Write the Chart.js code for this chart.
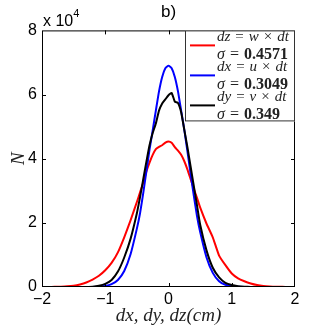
<!DOCTYPE html>
<html>
<head>
<meta charset="utf-8">
<script src="https://cdn.jsdelivr.net/npm/chart.js@4.4.0/dist/chart.umd.min.js"></script>
<style>
  body { margin: 0; background: #fff; }
  canvas { display: block; }
</style>
</head>
<body>
<canvas id="dist-chart" width="326" height="327"></canvas>
<script>
// displacement grid (cm), shared by the three curves
const dxGrid = [-2, -1.9, -1.8, -1.7, -1.6, -1.5, -1.4, -1.3, -1.2, -1.1, -1, -0.9, -0.8, -0.7, -0.6, -0.5,
    -0.45, -0.4, -0.35, -0.3, -0.25, -0.2, -0.15, -0.1, -0.05, 0, 0.05, 0.1, 0.15, 0.2, 0.25, 0.3, 0.35, 0.4, 0.45,
    0.5, 0.6, 0.7, 0.8, 0.9, 1, 1.1, 1.2, 1.3, 1.4, 1.5, 1.6, 1.7, 1.8, 1.9, 2];

// counts N, in units of 10^4
const countsDz = [0, 0, 0.005, 0.01, 0.02, 0.04, 0.08, 0.14, 0.23, 0.35, 0.52, 0.75, 1.08, 1.55, 2.08, 2.65,
    2.95, 3.25, 3.6, 3.88, 4.12, 4.3, 4.37, 4.42, 4.5, 4.54, 4.5, 4.36, 4.25, 4.12, 3.92, 3.66, 3.36, 3.06, 2.78,
    2.48, 1.98, 1.55, 0.98, 0.68, 0.42, 0.27, 0.18, 0.11, 0.06, 0.03, 0.015, 0.008, 0.004, 0, 0];
const countsDx = [0, 0, 0, 0, 0, 0, 0, 0, 0.003, 0.01, 0.03, 0.09, 0.22, 0.5, 1.02, 1.82,
    2.3, 2.92, 3.6, 4.28, 4.88, 5.5, 6.1, 6.55, 6.82, 6.9, 6.82, 6.55, 6.1, 5.5, 4.9, 4.22, 3.52, 2.85, 2.22,
    1.72, 0.93, 0.44, 0.18, 0.07, 0.025, 0.008, 0.002, 0, 0, 0, 0, 0, 0, 0, 0];
const countsDy = [0, 0, 0, 0, 0, 0, 0, 0.003, 0.01, 0.04, 0.1, 0.22, 0.48, 0.92, 1.5, 2.3,
    2.8, 3.35, 3.9, 4.42, 4.8, 5.1, 5.5, 5.72, 5.85, 5.98, 6.05, 5.78, 5.74, 5.45, 4.9, 4.35, 3.75, 3.15, 2.55,
    1.95, 1.15, 0.6, 0.3, 0.13, 0.06, 0.025, 0.01, 0.003, 0, 0, 0, 0, 0, 0, 0];

const seriesLabels = ['dz = w × dt', 'dx = u × dt', 'dy = v × dt'];
const seriesSigmas = ['0.4571', '0.3049', '0.349'];
const seriesColors = ['#ff0000', '#0000ff', '#000000'];

const xMin = -2, xMax = 2, xStep = 1;
const yMin = 0, yMax = 8, yStep = 2;

function toPoints(values) {
    return values.map(function (v, i) { return { x: dxGrid[i], y: v }; });
}

// draw a line of mixed italic / upright / bold runs
function drawRuns(ctx, runs, x, y, size, gap) {
    ctx.textBaseline = 'middle';
    ctx.textAlign = 'left';
    for (let i = 0; i < runs.length; i++) {
        const r = runs[i];
        ctx.font = r.style + ' ' + size + 'px "Liberation Serif"';
        ctx.fillText(r.text, x, y);
        x += ctx.measureText(r.text).width + gap;
    }
}

function labelRuns(label) {
    return label.split(' ').map(function (t) {
        return { text: t, style: /^[a-z]+$/i.test(t) ? 'italic' : 'normal' };
    });
}

// box, inner ticks, exponent and legend, matlab style
const matlabPlugin = {
    id: 'matlabBox',
    afterDraw(chart) {
        const ctx = chart.ctx;
        const a = chart.chartArea;
        const xs = chart.scales.x;
        const ys = chart.scales.y;
        ctx.save();
        ctx.strokeStyle = '#000';
        ctx.lineWidth = 1;
        ctx.strokeRect(a.left + 0.5, a.top + 0.5, a.right - a.left - 1, a.bottom - a.top - 1);

        const tl = 4;
        ctx.beginPath();
        xs.ticks.forEach(function (t) {
            if (t.value <= xMin || t.value >= xMax) return;
            const px = Math.round(xs.getPixelForValue(t.value)) + 0.5;
            ctx.moveTo(px, a.bottom); ctx.lineTo(px, a.bottom - tl);
            ctx.moveTo(px, a.top); ctx.lineTo(px, a.top + tl);
        });
        ys.ticks.forEach(function (t) {
            if (t.value <= yMin || t.value >= yMax) return;
            const py = Math.round(ys.getPixelForValue(t.value)) + 0.5;
            ctx.moveTo(a.left, py); ctx.lineTo(a.left + tl, py);
            ctx.moveTo(a.right, py); ctx.lineTo(a.right - tl, py);
        });
        ctx.stroke();

        // x 10^4 multiplier
        ctx.fillStyle = '#000';
        ctx.textAlign = 'left';
        ctx.textBaseline = 'alphabetic';
        ctx.font = '16px "Liberation Sans"';
        ctx.fillText('x 10', a.left + 1, a.top - 4);
        const w = ctx.measureText('x 10').width;
        ctx.font = '11px "Liberation Sans"';
        ctx.fillText('4', a.left + 1 + w, a.top - 13);

        // legend
        const lw = 110, lh = 91;
        const lx = a.right - lw, ly = a.top;
        ctx.fillStyle = '#fff';
        ctx.fillRect(lx, ly, lw, lh);
        ctx.strokeStyle = '#333';
        ctx.strokeRect(lx + 0.5, ly + 0.5, lw - 1, lh - 1);
        for (let i = 0; i < seriesLabels.length; i++) {
            const rowY = ly + 15 + i * 30;
            ctx.strokeStyle = seriesColors[i];
            ctx.lineWidth = 2;
            ctx.beginPath();
            ctx.moveTo(lx + 5, rowY);
            ctx.lineTo(lx + 30, rowY);
            ctx.stroke();
            ctx.fillStyle = '#222';
            drawRuns(ctx, labelRuns(seriesLabels[i]), lx + 32, rowY - 8, 15, 5);
            drawRuns(ctx, [
                { text: 'σ', style: 'italic' },
                { text: '=', style: 'normal' },
                { text: seriesSigmas[i], style: 'bold' }
            ], lx + 32, rowY + 9, 16, 5);
        }
        ctx.restore();
    }
};

const ctx = document.getElementById('dist-chart').getContext('2d');
const datasets = [countsDz, countsDx, countsDy].map(function (vals, i) {
    return {
        label: seriesLabels[i],
        data: toPoints(vals),
        borderColor: seriesColors[i],
        borderWidth: 2,
        pointRadius: 0,
        tension: 0.15,
        fill: false,
        order: 2 - i
    };
});

new Chart(ctx, {
    type: 'line',
    data: { datasets: datasets },
    options: {
        responsive: false,
        animation: false,
        layout: { padding: { top: 0, right: 31, bottom: 0, left: 0 } },
        plugins: {
            legend: { display: false },
            tooltip: { enabled: false },
            title: {
                display: true,
                text: 'b)',
                fullSize: false,
                color: '#000',
                font: { family: 'Liberation Sans', size: 17, weight: 'normal' },
                padding: { top: 2, bottom: 8 }
            }
        },
        scales: {
            x: {
                type: 'linear',
                min: xMin, max: xMax,
                grid: { display: false, drawTicks: false },
                border: { display: false },
                ticks: {
                    stepSize: xStep,
                    padding: 3,
                    color: '#000',
                    font: { family: 'Liberation Sans', size: 16 },
                    callback: function (v) { return v < 0 ? '\u2212' + Math.abs(v) : String(v); }
                },
                title: {
                    display: true,
                    text: 'dx, dy, dz(cm)',
                    color: '#222',
                    font: { family: 'Liberation Serif', size: 19, style: 'italic' },
                    padding: { top: 0, bottom: 0 }
                },
                afterFit: function (scale) { scale.height = 40; }
            },
            y: {
                min: yMin, max: yMax,
                grid: { display: false, drawTicks: false },
                border: { display: false },
                ticks: {
                    stepSize: yStep,
                    padding: 5,
                    color: '#000',
                    font: { family: 'Liberation Sans', size: 16 }
                },
                title: {
                    display: true,
                    text: 'N',
                    color: '#222',
                    font: { family: 'Liberation Serif', size: 19, style: 'italic' },
                    padding: { top: 8, bottom: 0 }
                },
                afterFit: function (scale) { scale.width = 42; }
            }
        }
    },
    plugins: [matlabPlugin]
});
</script>
</body>
</html>
